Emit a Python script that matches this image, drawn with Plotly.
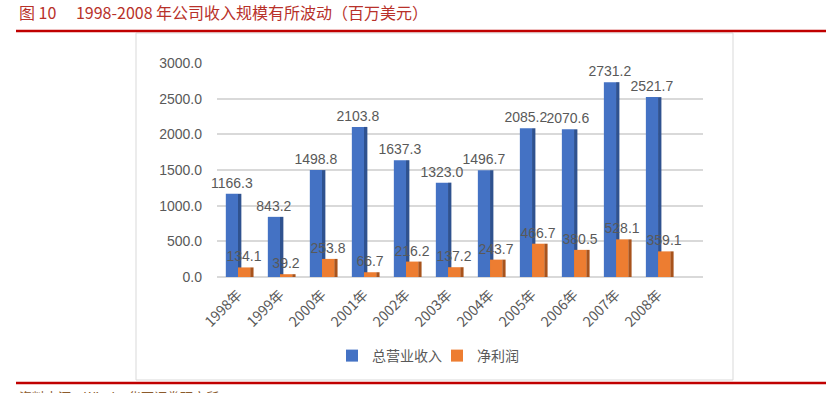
import plotly.graph_objects as go

years = ["1998年", "1999年", "2000年", "2001年", "2002年", "2003年", "2004年", "2005年", "2006年", "2007年", "2008年"]
revenue = [1166.3, 843.2, 1498.8, 2103.8, 1637.3, 1323.0, 1496.7, 2085.2, 2070.6, 2731.2, 2521.7]
profit = [134.1, 39.2, 253.8, 66.7, 216.2, 137.2, 243.7, 466.7, 380.5, 528.1, 359.1]
yticks = [0, 500, 1000, 1500, 2000, 2500, 3000]
ytick_text = ["0.0", "500.0", "1000.0", "1500.0", "2000.0", "2500.0", "3000.0"]

W, H = 826, 393
FONT = "Liberation Sans, Noto Sans CJK SC, sans-serif"
CJK = "Noto Sans CJK SC, sans-serif"
GRAY = "#595959"

xs = list(range(len(years)))
front_w = 0.29
side_w = 0.08

fig = go.Figure()
# blue side face
fig.add_trace(go.Bar(x=xs, y=revenue, offset=0, width=side_w, marker=dict(color="#2F528F", line=dict(width=0)),
                     showlegend=False, hoverinfo="skip"))
# blue front
fig.add_trace(go.Bar(x=xs, y=revenue, offset=-front_w, width=front_w, name="总营业收入",
                     marker=dict(color="#4472C4", line=dict(width=0)),
                     texttemplate="%{y:.1f}", textposition="outside", constraintext="none",
                     textfont=dict(family=FONT, size=14, color=GRAY), cliponaxis=False))
# orange side face
fig.add_trace(go.Bar(x=xs, y=profit, offset=front_w, width=side_w, marker=dict(color="#A8531C", line=dict(width=0)),
                     showlegend=False, hoverinfo="skip"))
# orange front
fig.add_trace(go.Bar(x=xs, y=profit, offset=0, width=front_w, name="净利润",
                     marker=dict(color="#ED7D31", line=dict(width=0)),
                     texttemplate="%{y:.1f}", textposition="outside", constraintext="none",
                     textfont=dict(family=FONT, size=14, color=GRAY), cliponaxis=False))

fig.update_layout(
    width=W, height=H,
    margin=dict(l=217, r=123, t=63, b=116, autoexpand=False),
    barmode="overlay",
    plot_bgcolor="white", paper_bgcolor="white",
    font=dict(family=FONT, color=GRAY, size=14),
    xaxis=dict(tickmode="array", tickvals=xs, ticktext=years, tickangle=-45,
               range=[-0.5, 11.07], showgrid=False, zeroline=False, showline=False, automargin=False,
               tickfont=dict(family=CJK, size=14, color=GRAY), ticks="", ticklabelstandoff=6),
    yaxis=dict(range=[0, 3000], tickvals=yticks, ticktext=ytick_text, showgrid=True, automargin=False,
               gridcolor="#D9D9D9", gridwidth=1.5, zeroline=True, zerolinecolor="#D9D9D9",
               zerolinewidth=1.5, tickfont=dict(family=FONT, size=14, color=GRAY),
               ticks="", ticklabelstandoff=14),
    legend=dict(orientation="h", x=332 / W, xanchor="left", xref="container",
                y=1 - 356 / H, yref="container", yanchor="middle",
                font=dict(family=CJK, size=14, color=GRAY), itemwidth=30, tracegroupgap=0,
                entrywidth=60, entrywidthmode="pixels",
                traceorder="normal"),
    showlegend=True,
)

# frame, red rules, title, source
fig.add_shape(type="rect", xref="paper", yref="paper",
              x0=(136 - 217) / 486, x1=(733 - 217) / 486,
              y0=(277 - 380) / 214, y1=(277 - 33) / 214,
              line=dict(color="#D9D9D9", width=1), layer="below")
for yp in (31, 383):
    fig.add_shape(type="line", xref="paper", yref="paper",
                  x0=(16 - 217) / 486, x1=(826 - 217) / 486,
                  y0=(277 - yp) / 214, y1=(277 - yp) / 214,
                  line=dict(color="#C00000", width=2.5))

fig.add_annotation(text="图 10　 1998-2008 年公司收入规模有所波动（百万美元）", xref="paper", yref="paper",
                   x=(17 - 217) / 486, y=(277 - 12) / 214, xanchor="left", yanchor="middle",
                   showarrow=False, font=dict(family=CJK, size=16, color="#B8312A"))
fig.add_annotation(text="资料来源：Wind，华西证券研究所", xref="paper", yref="paper",
                   x=(17 - 217) / 486, y=(277 - 385) / 214, xanchor="left", yanchor="top",
                   showarrow=False, font=dict(family=CJK, size=13, color="#8B5A2B"))

fig.write_html("out.html", config={"displayModeBar": False},
               post_script="document.body.style.margin='0';document.body.style.padding='0';")
